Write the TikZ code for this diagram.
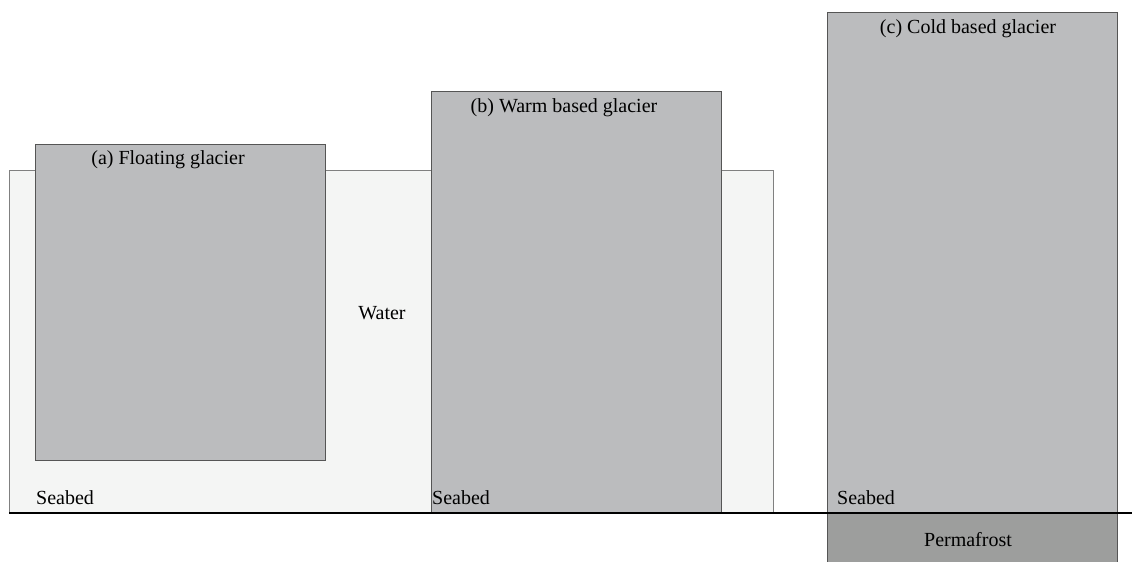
\documentclass[tikz,border=0pt]{standalone}
\usepackage{fontspec}
\setmainfont{Liberation Serif}
\definecolor{waterc}{HTML}{F4F5F4}
\definecolor{icec}{HTML}{BBBCBE}
\definecolor{permc}{HTML}{9D9E9D}
\definecolor{edgec}{HTML}{555555}
\begin{document}
\begin{tikzpicture}[x=1pt,y=-1pt,
  lbl/.style={font=\fontsize{20}{24}\selectfont, inner sep=0pt},
  ice/.style={fill=icec, draw=edgec, line width=1pt},
  waterbox/.style={fill=waterc, draw=gray, line width=1pt}]
\useasboundingbox (0,0) rectangle (1132,562);
\draw[waterbox] (9,170) rectangle (773,513);
\node[ice, minimum width=290, minimum height=316, anchor=north west] (a) at (35,144) {};
\node[ice, minimum width=290, minimum height=422, anchor=north west] (b) at (431,91) {};
\node[ice, minimum width=290, minimum height=501, anchor=north west] (c) at (827,12) {};
\fill[permc] (827,513) rectangle (1117,562);
\draw[edgec, line width=1pt] (827,513) -- (827,562) (1117,513) -- (1117,562);
\draw[black, line width=1.6pt] (9,513) -- (1132,513);
\node[lbl] (la) at (168,160) {(a) Floating glacier};
\node[lbl] (lb) at (564,108) {(b) Warm based glacier};
\node[lbl] (lc) at (968,29) {(c) Cold based glacier};
\node[lbl] (w) at (382,313) {Water};
\node[lbl, anchor=west] (s1) at (36,498) {Seabed};
\node[lbl, anchor=west] (s2) at (432,498) {Seabed};
\node[lbl, anchor=west] (s3) at (837,498) {Seabed};
\node[lbl] (p) at (968,540) {Permafrost};
\end{tikzpicture}
\end{document}
